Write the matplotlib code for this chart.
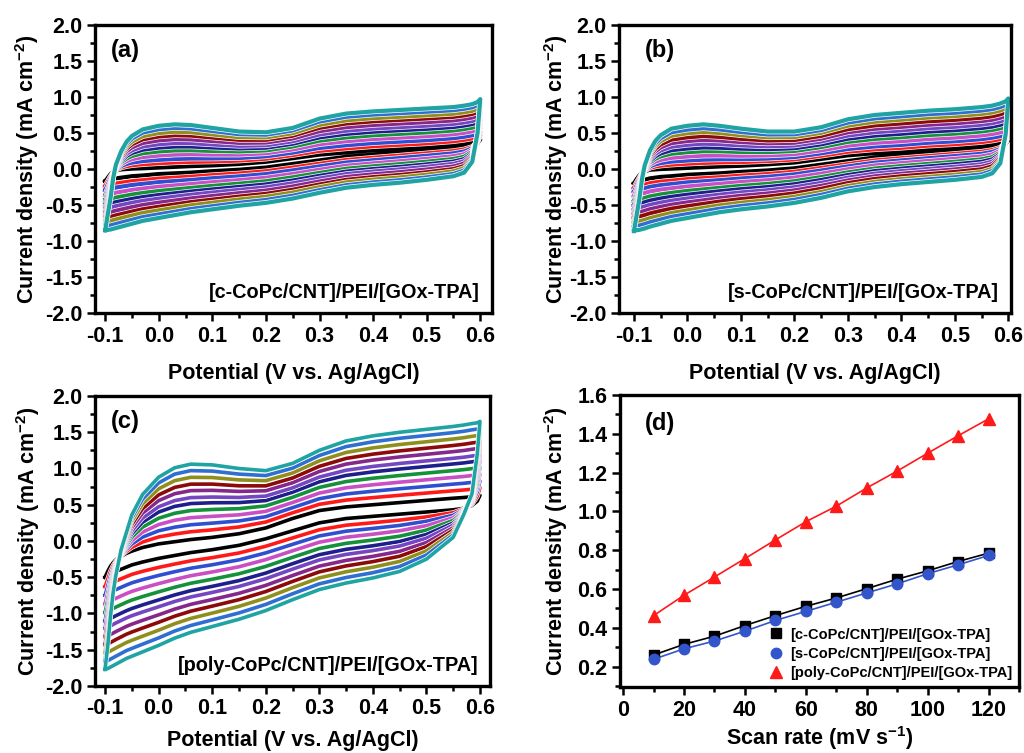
import numpy as np
import matplotlib.pyplot as plt
from matplotlib import patheffects as pe
from matplotlib.ticker import MultipleLocator

plt.rcParams['font.family'] = 'Liberation Sans'
plt.rcParams['font.weight'] = 'bold'
plt.rcParams['axes.labelweight'] = 'bold'
plt.rcParams['mathtext.fontset'] = 'custom'
plt.rcParams['mathtext.rm'] = 'Liberation Sans:bold'
plt.rcParams['mathtext.bf'] = 'Liberation Sans:bold'

# scan rates (mV/s)
scan_rate = [10, 20, 30, 40, 50, 60, 70, 80, 90, 100, 110, 120]

# (d) current density vs scan rate
j_c = [0.26, 0.315, 0.357, 0.412, 0.463, 0.511, 0.554, 0.602, 0.651, 0.694, 0.742, 0.785]
j_s = [0.238, 0.292, 0.332, 0.383, 0.438, 0.485, 0.532, 0.58, 0.627, 0.679, 0.725, 0.773]
j_poly = [0.463, 0.568, 0.662, 0.757, 0.853, 0.947, 1.027, 1.121, 1.208, 1.30, 1.39, 1.477]

names = ['[c-CoPc/CNT]/PEI/[GOx-TPA]', '[s-CoPc/CNT]/PEI/[GOx-TPA]',
         '[poly-CoPc/CNT]/PEI/[GOx-TPA]']

# CV potentials (V vs Ag/AgCl)
E = [-0.1, -0.095, -0.09, -0.085, -0.08, -0.07, -0.06, -0.05, -0.03, 0.0, 0.03, 0.06, 0.1,
     0.15, 0.2, 0.25, 0.3, 0.35, 0.4, 0.45, 0.5, 0.55, 0.57, 0.585, 0.595, 0.6]

# (a) anodic / cathodic branches, 120 mV/s (outer) and 10 mV/s (inner)
up_out_a = [-0.85, -0.62, -0.40, -0.12, 0.06, 0.25, 0.38, 0.46, 0.55, 0.60, 0.62, 0.61, 0.57,
            0.52, 0.51, 0.57, 0.70, 0.77, 0.80, 0.82, 0.84, 0.86, 0.88, 0.90, 0.93, 0.97]
lo_out_a = [-0.85, -0.845, -0.84, -0.83, -0.82, -0.80, -0.78, -0.76, -0.72, -0.68, -0.64, -0.60, -0.56,
            -0.51, -0.47, -0.41, -0.33, -0.26, -0.22, -0.19, -0.15, -0.10, -0.05, 0.10, 0.50, 0.97]
up_in_a = [-0.17, -0.12, -0.07, -0.04, -0.02, -0.005, 0.0, 0.005, 0.01, 0.02, 0.03, 0.04, 0.05,
           0.07, 0.10, 0.15, 0.20, 0.23, 0.26, 0.28, 0.30, 0.33, 0.35, 0.37, 0.39, 0.41]
lo_in_a = [-0.17, -0.16, -0.15, -0.14, -0.13, -0.12, -0.11, -0.10, -0.09, -0.07, -0.06, -0.05, -0.03,
           -0.01, 0.02, 0.07, 0.12, 0.17, 0.20, 0.23, 0.26, 0.29, 0.31, 0.33, 0.36, 0.41]

# (b)
up_out_b = [-0.86, -0.64, -0.42, -0.14, 0.05, 0.26, 0.39, 0.47, 0.56, 0.60, 0.62, 0.60, 0.56,
            0.52, 0.52, 0.58, 0.69, 0.75, 0.78, 0.81, 0.83, 0.86, 0.88, 0.91, 0.94, 0.98]
lo_out_b = [-0.86, -0.85, -0.845, -0.835, -0.825, -0.80, -0.78, -0.76, -0.72, -0.68, -0.64, -0.60, -0.56,
            -0.52, -0.47, -0.40, -0.31, -0.25, -0.21, -0.18, -0.15, -0.11, -0.06, 0.08, 0.48, 0.98]
up_in_b = [-0.20, -0.14, -0.09, -0.05, -0.03, -0.01, -0.005, 0.0, 0.005, 0.015, 0.025, 0.035, 0.045,
           0.065, 0.09, 0.14, 0.19, 0.22, 0.24, 0.27, 0.29, 0.32, 0.34, 0.36, 0.38, 0.40]
lo_in_b = [-0.20, -0.18, -0.17, -0.16, -0.15, -0.13, -0.12, -0.11, -0.10, -0.08, -0.07, -0.06, -0.04,
           -0.02, 0.01, 0.06, 0.11, 0.16, 0.19, 0.22, 0.25, 0.28, 0.30, 0.32, 0.35, 0.40]

# (c)
up_out_c = [-1.77, -1.45, -1.05, -0.72, -0.48, -0.12, 0.12, 0.36, 0.64, 0.88, 1.01, 1.06, 1.05,
            1.0, 0.97, 1.07, 1.25, 1.38, 1.45, 1.50, 1.54, 1.58, 1.60, 1.62, 1.63, 1.65]
lo_out_c = [-1.77, -1.76, -1.74, -1.72, -1.70, -1.66, -1.62, -1.59, -1.53, -1.44, -1.34, -1.26, -1.18,
            -1.08, -0.96, -0.81, -0.67, -0.58, -0.51, -0.42, -0.25, 0.05, 0.37, 0.65, 1.2, 1.65]
up_in_c = [-0.50, -0.42, -0.35, -0.30, -0.26, -0.21, -0.17, -0.14, -0.09, -0.04, -0.01, 0.02, 0.05,
           0.10, 0.18, 0.31, 0.42, 0.47, 0.50, 0.53, 0.56, 0.59, 0.60, 0.61, 0.62, 0.63]
lo_in_c = [-0.50, -0.48, -0.46, -0.44, -0.42, -0.39, -0.36, -0.33, -0.29, -0.24, -0.20, -0.16, -0.12,
           -0.06, 0.03, 0.14, 0.25, 0.31, 0.34, 0.37, 0.40, 0.43, 0.45, 0.49, 0.55, 0.63]

cv_colors = ['#000000', '#ff1a1a', '#2f4fd0', '#c94fc4', '#14913a', '#1f1f8c',
             '#7446bf', '#86288a', '#8c0a0a', '#8f8f1e', '#2f6fd0', '#1fa3a3']

fig = plt.figure(figsize=(10.24, 7.53), dpi=100)
ax_a = fig.add_axes([0.0928, 0.5843, 0.3877, 0.3825])
ax_b = fig.add_axes([0.6045, 0.5843, 0.3828, 0.3825])
ax_c = fig.add_axes([0.0928, 0.0890, 0.3857, 0.3851])
ax_d = fig.add_axes([0.6055, 0.0876, 0.3896, 0.3878])


def style(ax):
    for s in ax.spines.values():
        s.set_linewidth(2.4)
    ax.tick_params(which='both', direction='out', top=False, right=False,
                   width=1.8, labelsize=15.5, pad=3)
    ax.tick_params(which='major', length=6)
    ax.tick_params(which='minor', length=3.5)


ylab = r'Current density (mA cm$^{\mathbf{-2}}$)'

cv_sets = [
    (ax_a, up_out_a, lo_out_a, up_in_a, lo_in_a, j_c, '(a)', names[0], (-0.119, 0.622), 3.0),
    (ax_b, up_out_b, lo_out_b, up_in_b, lo_in_b, j_s, '(b)', names[1], (-0.128, 0.605), 3.0),
    (ax_c, up_out_c, lo_out_c, up_in_c, lo_in_c, j_poly, '(c)', names[2], (-0.1187, 0.6187), 2.6),
]

E_arr = np.array(E)
for ax, uo, lo, ui, li, jj, tag, name, xl, lw in cv_sets:
    jj = np.array(jj)
    # spacing of the loops follows the currents in panel (d)
    w = (jj - jj[0]) / (jj[-1] - jj[0])
    for k in range(len(scan_rate)):
        up = np.array(ui) + w[k] * (np.array(uo) - np.array(ui))
        dn = np.array(li) + w[k] * (np.array(lo) - np.array(li))
        xs = np.concatenate([E_arr, E_arr[::-1]])
        ys = np.concatenate([up, dn[::-1]])
        ax.plot(xs, ys, color=cv_colors[k], lw=lw, solid_joinstyle='round',
                path_effects=[pe.Stroke(linewidth=lw + 1.0, foreground='white'), pe.Normal()])
    style(ax)
    ax.set_xlim(*xl)
    ax.set_ylim(-2.0, 2.0)
    ax.xaxis.set_major_locator(MultipleLocator(0.1))
    ax.xaxis.set_minor_locator(MultipleLocator(0.05))
    ax.yaxis.set_major_locator(MultipleLocator(0.5))
    ax.yaxis.set_minor_locator(MultipleLocator(0.25))
    ax.xaxis.set_major_formatter(plt.FuncFormatter(lambda v, p: '%.1f' % v))
    ax.yaxis.set_major_formatter(plt.FuncFormatter(lambda v, p: '%.1f' % v))
    ax.set_xlabel('Potential (V vs. Ag/AgCl)', fontsize=15.5)
    ax.set_ylabel(ylab, fontsize=15.5)
    ax.text(0.04 if tag != '(b)' else 0.066, 0.913, tag, transform=ax.transAxes,
            fontsize=17, ha='left', va='center')
    ax.text(0.97, 0.07, name, transform=ax.transAxes, fontsize=14.3,
            ha='right', va='center')

ax_a.xaxis.set_label_coords(0.5, -0.173)
ax_a.yaxis.set_label_coords(-0.135, 0.5)
ax_b.xaxis.set_label_coords(0.5, -0.173)
ax_b.yaxis.set_label_coords(-0.125, 0.5)
ax_c.xaxis.set_label_coords(0.5, -0.152)
ax_c.yaxis.set_label_coords(-0.135, 0.5)

# (d)
ax_d.plot(scan_rate, j_c, color='black', lw=1.2)
ax_d.plot(scan_rate, j_s, color='#3355cc', lw=1.2)
ax_d.plot(scan_rate, j_poly, color='#ff1a1a', lw=1.2)
ax_d.plot(scan_rate, j_c, ls='none', marker='s', ms=6.5, color='black', label=names[0])
ax_d.plot(scan_rate, j_s, ls='none', marker='o', ms=7.5, color='#3355cc', label=names[1])
ax_d.plot(scan_rate, j_poly, ls='none', marker='^', ms=8.5, color='#ff1a1a', label=names[2])
style(ax_d)
ax_d.set_xlim(-1, 130)
ax_d.set_ylim(0.095, 1.6)
ax_d.xaxis.set_major_locator(MultipleLocator(20))
ax_d.xaxis.set_minor_locator(MultipleLocator(10))
ax_d.yaxis.set_major_locator(MultipleLocator(0.2))
ax_d.yaxis.set_minor_locator(MultipleLocator(0.1))
ax_d.yaxis.set_major_formatter(plt.FuncFormatter(lambda v, p: '%.1f' % v))
ax_d.set_xlabel(r'Scan rate (mV s$^{\mathbf{-1}}$)', fontsize=15.5)
ax_d.set_ylabel(ylab, fontsize=15.5)
ax_d.xaxis.set_label_coords(0.5, -0.128)
ax_d.yaxis.set_label_coords(-0.125, 0.5)
ax_d.text(0.063, 0.904, '(d)', transform=ax_d.transAxes, fontsize=17, ha='left', va='center')
ax_d.legend(loc='lower right', bbox_to_anchor=(1.01, -0.01), frameon=False, fontsize=10.5,
            handlelength=1.0, handletextpad=0.5, labelspacing=0.35, borderaxespad=0.3)

fig.savefig('out.png', dpi=100)
